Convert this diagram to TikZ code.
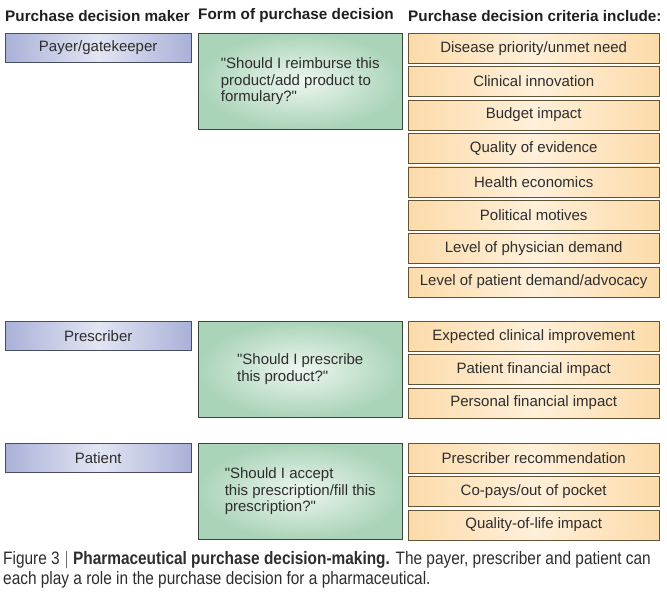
\documentclass[tikz,border=0pt]{standalone}
\usepackage{fontspec}
\setmainfont{Liberation Sans}
\newfontfamily\capfont{Liberation Sans}[FakeStretch=0.856]
\usetikzlibrary{positioning}

\definecolor{makeredge}{RGB}{170,177,216}
\definecolor{makermid}{RGB}{226,229,243}
\definecolor{makerline}{RGB}{72,76,100}
\definecolor{formedge}{RGB}{170,212,184}
\definecolor{formmid}{RGB}{238,246,240}
\definecolor{formline}{RGB}{56,72,62}
\definecolor{critedge}{RGB}{252,219,170}
\definecolor{critmid}{RGB}{255,240,218}
\definecolor{critline}{RGB}{100,82,52}
\definecolor{inktext}{RGB}{45,45,45}

\begin{document}
\begin{tikzpicture}[x=1pt,y=-1pt,node distance=3pt]
            \tikzstyle{head}=[anchor=west, inner sep=0pt, text=black!88, font=\fontsize{15.3}{17}\selectfont\bfseries]
            \tikzstyle{maker}=[draw=makerline, anchor=north west, minimum width=186pt, minimum height=29pt,
                               left color=makeredge, right color=makeredge, middle color=makermid,
                               text=inktext, font=\fontsize{15}{17}\selectfont]
            \tikzstyle{form}=[draw=formline, anchor=north west, minimum width=204pt, minimum height=96pt,
                              inner color=formmid, outer color=formedge, align=left,
                              text=inktext, font=\fontsize{15}{16.5}\selectfont]
            \tikzstyle{crit}=[draw=critline, minimum width=251pt, minimum height=30pt,
                              left color=critedge, right color=critedge, middle color=critmid,
                              text=inktext, font=\fontsize{15}{17}\selectfont]
            \tikzstyle{captext}=[anchor=base west, inner sep=0pt, text=inktext, font=\capfont\fontsize{18}{20}\selectfont]

            \useasboundingbox (0,0) rectangle (667,592);

            \node[head] (hmaker) at (5,16)   {Purchase decision maker};
            \node[head] (hform)  at (198,16) {Form of purchase decision};
            \node[head] (hcrit)  at (408,16) {Purchase decision criteria include:};

            \node[maker]                        (payer)    at (5,33)    {Payer/gatekeeper};
            \node[form]                         (fpayer)   at (198,33)  {\textquotedbl Should I reimburse this\\product/add product to\\formulary?\textquotedbl};
            \node[crit, anchor=north west]      (need)     at (408,33)  {Disease priority/unmet need};
            \node[crit]                         (innov)    [below=of need]   {Clinical innovation};
            \node[crit]                         (budget)   [below=of innov]  {Budget impact};
            \node[crit]                         (evid)     [below=of budget] {Quality of evidence};
            \node[crit]                         (econ)     [below=of evid]   {Health economics};
            \node[crit]                         (polit)    [below=of econ]   {Political motives};
            \node[crit]                         (physdem)  [below=of polit]  {Level of physician demand};
            \node[crit]                         (patdem)   [below=of physdem]{Level of patient demand/advocacy};

            \node[maker]                        (prescr)   at (5,321)   {Prescriber};
            \node[form]                         (fprescr)  at (198,321) {\textquotedbl Should I prescribe\\this product?\textquotedbl};
            \node[crit, anchor=north west]      (clinimp)  at (408,321) {Expected clinical improvement};
            \node[crit]                         (patfin)   [below=of clinimp] {Patient financial impact};
            \node[crit]                         (persfin)  [below=of patfin]  {Personal financial impact};

            \node[maker]                        (patient)  at (5,443)   {Patient};
            \node[form]                         (fpatient) at (198,443) {\textquotedbl Should I accept\\this prescription/fill this\\prescription?\textquotedbl};
            \node[crit, anchor=north west]      (recomm)   at (408,443) {Prescriber recommendation};
            \node[crit]                         (copay)    [below=of recomm]  {Co-pays/out of pocket};
            \node[crit]                         (qol)      [below=of copay]   {Quality-of-life impact};

            \node[captext] (caption)  at (3,564) {Figure 3 $|$ \textbf{Pharmaceutical purchase decision-making.} The payer, prescriber and patient can};
            \node[captext] (caption2) at (3,584) {each play a role in the purchase decision for a pharmaceutical.};
\end{tikzpicture}
\end{document}
